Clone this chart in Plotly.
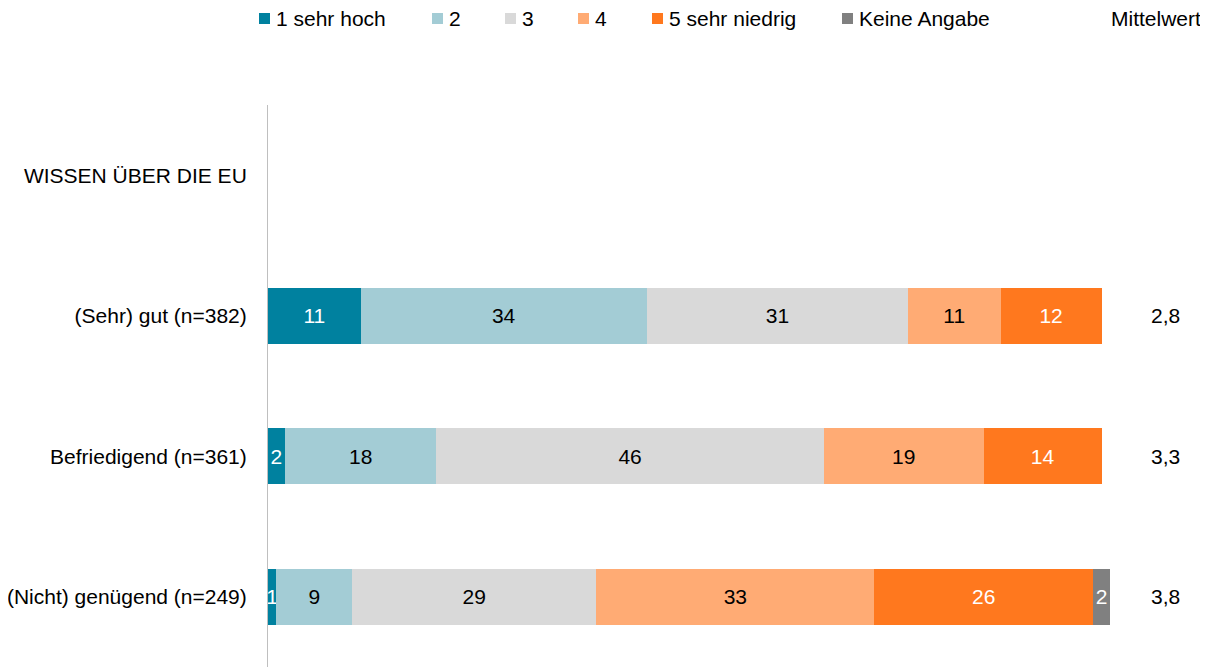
import plotly.graph_objects as go

categories = ["WISSEN ÜBER DIE EU", "(Sehr) gut (n=382)", "Befriedigend (n=361)", "(Nicht) genügend (n=249)"]
rows = categories[1:]
series_names = ["1 sehr hoch", "2", "3", "4", "5 sehr niedrig", "Keine Angabe"]
values = {
    "1 sehr hoch": [11, 2, 1],
    "2": [34, 18, 9],
    "3": [31, 46, 29],
    "4": [11, 19, 33],
    "5 sehr niedrig": [12, 14, 26],
    "Keine Angabe": [0, 0, 2],
}
means = ["2,8", "3,3", "3,8"]
mean_title = "Mittelwert"

colors = ["#00819F", "#A3CCD5", "#D9D9D9", "#FFAB74", "#FF781E", "#808080"]
text_colors = ["white", "black", "black", "black", "white", "white"]
legend_px = [259, 432, 505, 578, 652, 842]  # left edge of legend squares (window pixels)
FONT = "Liberation Sans, Arial, sans-serif"
FS = 21

OFF = 8  # page body margin
FIG_W, FIG_H = 1208 - OFF, 667 - OFF
L, T, W, H = 268 - OFF, 105 - OFF, 842, 562


def px_x(p):
    return (p - OFF - L) / W


def px_y(p):
    return 1 + (T - (p - OFF)) / H


fig = go.Figure()
for name, col, tcol in zip(series_names, colors, text_colors):
    vals = values[name]
    fig.add_trace(go.Bar(
        y=rows, x=vals, name=name, orientation="h",
        marker=dict(color=col, line=dict(width=0)),
        text=[str(v) if v else "" for v in vals],
        textposition="inside", insidetextanchor="middle",
        textfont=dict(color=tcol, size=FS, family=FONT),
        constraintext="none", cliponaxis=False,
        width=0.40, hoverinfo="x+name", showlegend=False,
    ))

# legend (drawn manually to match spacing)
for name, col, lx in zip(series_names, colors, legend_px):
    fig.add_shape(type="rect", xref="paper", yref="paper",
                  x0=px_x(lx), x1=px_x(lx + 11), y0=px_y(24), y1=px_y(13),
                  fillcolor=col, line=dict(width=0))
    fig.add_annotation(x=px_x(lx + 15), xref="paper", y=px_y(18.5), yref="paper",
                       text=name, showarrow=False, xanchor="left", yanchor="middle",
                       font=dict(size=FS, color="black", family=FONT))

for r, m in zip(rows, means):
    fig.add_annotation(x=px_x(1165), xref="paper", y=r, yref="y", text=m, showarrow=False,
                       font=dict(size=FS, color="black", family=FONT), xanchor="center")
fig.add_annotation(x=px_x(1156), xref="paper", y=px_y(18.5), yref="paper", yanchor="middle",
                   text=mean_title, showarrow=False,
                   font=dict(size=FS, color="black", family=FONT), xanchor="center")

fig.update_layout(
    barmode="stack", width=FIG_W, height=FIG_H,
    margin=dict(l=L, r=FIG_W - L - W, t=T, b=FIG_H - T - H, pad=0, autoexpand=False),
    paper_bgcolor="white", plot_bgcolor="white",
    font=dict(family=FONT, size=FS, color="black"),
    uniformtext=dict(minsize=FS, mode="show"),
    showlegend=False,
    xaxis=dict(range=[0, 100], visible=False, fixedrange=True),
    yaxis=dict(categoryorder="array", categoryarray=categories, type="category",
               range=[3.5, -0.5], showline=True, linecolor="#BFBFBF", linewidth=1,
               ticks="", showgrid=False, zeroline=False, ticklabelstandoff=16,
               tickfont=dict(size=FS, family=FONT), automargin=False),
)
fig.write_html("out.html")
